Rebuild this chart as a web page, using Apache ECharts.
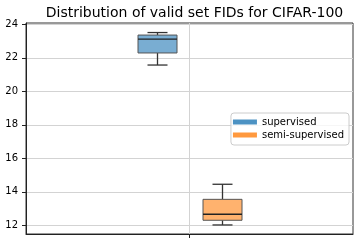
<!DOCTYPE html>
<html><head><meta charset="utf-8">
<script src="https://cdn.jsdelivr.net/npm/echarts@6/dist/echarts.min.js"></script>
<style>html,body{margin:0;padding:0;background:#fff}#c{width:360px;height:246px}</style>
</head><body><div id="c"></div>
<script>
// ---- data ----
const chartTitle = 'Distribution of valid set FIDs for CIFAR-100';
const seriesNames = ['supervised', 'semi-supervised'];
const groupPosition = 1; // single x tick (category centre)
// [min(whisker), Q1, median, Q3, max(whisker)]
const supervisedStats = [21.57, 22.29, 23.12, 23.36, 23.51];
const semiSupervisedStats = [12.02, 12.30, 12.66, 13.55, 14.45];
const yTickValues = [12, 14, 16, 18, 20, 22, 24];
const yRange = [11.48, 24.08];

// ---- styles ----
const FONT = 'DejaVu Sans';
const BOX_W = 39, CAP_W = 20, OFFSET = 32.75;
const fills = ['#79add2', '#ffb26e'];
const legendColors = ['#4c92c3', '#ff993e'];

function makeRender(offsetPx, fill) {
  return function (params, api) {
    const x = api.value(0);
    const pMin = api.coord([x, api.value(1)]);
    const pQ1 = api.coord([x, api.value(2)]);
    const pMed = api.coord([x, api.value(3)]);
    const pQ3 = api.coord([x, api.value(4)]);
    const pMax = api.coord([x, api.value(5)]);
    const cx = Math.round(pMin[0] + offsetPx) + 0.5;
    const hb = BOX_W / 2, hc = CAP_W / 2;
    const wStyle = { stroke: '#333', lineWidth: 1.3 };
    return {
      type: 'group',
      children: [
        { type: 'line', shape: { x1: cx, y1: pQ1[1], x2: cx, y2: pMin[1] }, style: wStyle },
        { type: 'line', shape: { x1: cx, y1: pQ3[1], x2: cx, y2: pMax[1] }, style: wStyle },
        { type: 'line', shape: { x1: cx - hc, y1: pMin[1], x2: cx + hc, y2: pMin[1] }, style: wStyle },
        { type: 'line', shape: { x1: cx - hc, y1: pMax[1], x2: cx + hc, y2: pMax[1] }, style: wStyle },
        { type: 'rect', shape: { x: cx - hb, y: pQ3[1], width: BOX_W, height: pQ1[1] - pQ3[1] },
          style: { fill: fill, stroke: '#555', lineWidth: 1 } },
        { type: 'line', shape: { x1: cx - hb, y1: pMed[1], x2: cx + hb, y2: pMed[1] },
          style: { stroke: '#222', lineWidth: 1.4 } }
      ]
    };
  };
}

const chart = echarts.init(document.getElementById('c'), null, { renderer: 'canvas' });
chart.setOption({
  animation: false,
  backgroundColor: '#fff',
  title: {
    text: chartTitle,
    left: 189.5, top: 1, textAlign: 'center',
    textStyle: { fontFamily: FONT, fontSize: 14, fontWeight: 'normal', color: '#000' }
  },
  legend: {
    orient: 'vertical', right: 11, top: 113,
    data: seriesNames.map((n, i) => ({ name: n, itemStyle: { color: legendColors[i] } })),
    icon: 'rect', itemWidth: 24, itemHeight: 5, itemGap: 3,
    padding: [4, 5, 5, 2],
    borderColor: '#ccc', borderWidth: 1, borderRadius: 3,
    backgroundColor: 'rgba(255,255,255,0.8)',
    textStyle: { fontFamily: FONT, fontSize: 10, color: '#000' }
  },
  grid: {
    left: 26, right: 7, top: 23, bottom: 12,
    show: true, borderColor: '#333', borderWidth: 1,
    outerBoundsMode: 'none'
  },
  xAxis: {
    type: 'value', min: 0, max: 2, interval: 1,
    axisLine: { show: true, lineStyle: { color: '#222' } },
    axisTick: { show: true, length: 4, customValues: [groupPosition], lineStyle: { color: '#222' } },
    axisLabel: { show: false },
    splitLine: { show: true, lineStyle: { color: '#d3d3d3', width: 1 } }
  },
  yAxis: {
    type: 'value', min: yRange[0], max: yRange[1],
    axisLine: { show: true, lineStyle: { color: '#222' } },
    axisTick: { show: true, length: 4, inside: false, customValues: yTickValues, lineStyle: { color: '#222' } },
    axisLabel: { customValues: yTickValues, margin: 8, fontFamily: FONT, fontSize: 10, color: '#000' },
    splitLine: { show: true, lineStyle: { color: '#d3d3d3', width: 1 } }
  },
  series: [
    {
      name: seriesNames[0], type: 'custom',
      itemStyle: { color: legendColors[0] },
      renderItem: makeRender(-OFFSET, fills[0]),
      encode: { x: 0, y: [1, 2, 3, 4, 5] },
      data: [[groupPosition].concat(supervisedStats)]
    },
    {
      name: seriesNames[1], type: 'custom',
      itemStyle: { color: legendColors[1] },
      renderItem: makeRender(OFFSET, fills[1]),
      encode: { x: 0, y: [1, 2, 3, 4, 5] },
      data: [[groupPosition].concat(semiSupervisedStats)]
    }
  ]
});
</script></body></html>
